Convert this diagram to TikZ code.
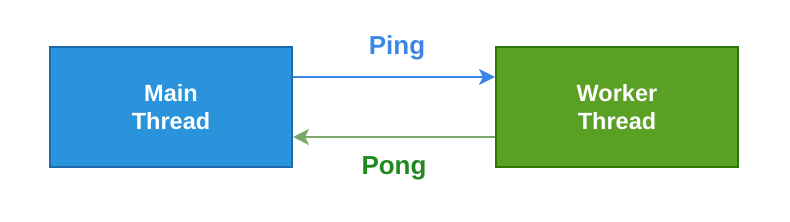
\documentclass[tikz,border=0pt]{standalone}
\usepackage{fontspec}
\setmainfont{Liberation Sans}
\usetikzlibrary{arrows.meta}
\definecolor{mainfill}{HTML}{2994DB}
\definecolor{mainedge}{HTML}{1F6AAD}
\definecolor{workfill}{HTML}{5AA024}
\definecolor{workedge}{HTML}{2D7600}
\definecolor{pingcol}{HTML}{3C86E8}
\definecolor{pongline}{HTML}{7BA868}
\definecolor{pongtext}{HTML}{1E8A1E}
\tikzset{
  threadbox/.style={draw, line width=2pt, minimum width=242pt, minimum height=120pt,
    text=white, font=\fontsize{23.5}{28}\selectfont\bfseries, align=center, inner sep=0pt},
  msg/.style={line width=1.8pt, -{Stealth[length=16pt,width=16pt,inset=4pt]}},
  msglabel/.style={font=\fontsize{26}{30}\selectfont\bfseries, inner sep=0pt}
}
\begin{document}
\begin{tikzpicture}[x=1pt,y=1pt]
\useasboundingbox (0,0) rectangle (790,222);
\node[threadbox, fill=mainfill, draw=mainedge] (main) at (171,115) {Main\\Thread};
\node[threadbox, fill=workfill, draw=workedge] (worker) at (617,115) {Worker\\Thread};
\coordinate (pingA) at (main.east |- 0,145);
\coordinate (pingB) at (worker.west |- 0,145);
\coordinate (pongA) at (worker.west |- 0,85);
\coordinate (pongB) at (main.east |- 0,85);
\draw[msg, draw=pingcol, fill=pingcol] (pingA) -- (pingB);
\draw[msg, draw=pongline, fill=pongline] (pongA) -- (pongB);
\node[msglabel, text=pingcol] (ping) at (397,174) {Ping};
\node[msglabel, text=pongtext] (pong) at (394,54) {Pong};
\end{tikzpicture}
\end{document}
